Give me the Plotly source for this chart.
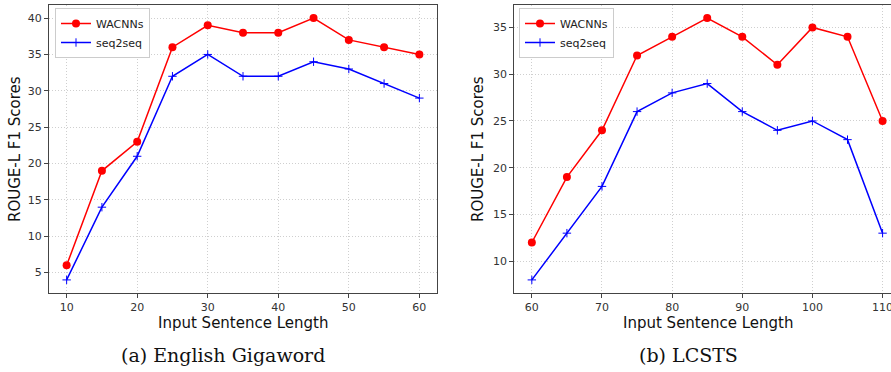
import plotly.graph_objects as go

# Data
x_giga = [10, 15, 20, 25, 30, 35, 40, 45, 50, 55, 60]
wacnn_giga = [6, 19, 23, 36, 39, 38, 38, 40, 37, 36, 35]
seq_giga = [4, 14, 21, 32, 35, 32, 32, 34, 33, 31, 29]

x_lcsts = [60, 65, 70, 75, 80, 85, 90, 95, 100, 105, 110]
wacnn_lcsts = [12, 19, 24, 32, 34, 36, 34, 31, 35, 34, 25]
seq_lcsts = [8, 13, 18, 26, 28, 29, 26, 24, 25, 23, 13]

xticks_giga = [10, 20, 30, 40, 50, 60]
yticks_giga = [5, 10, 15, 20, 25, 30, 35, 40]
xticks_lcsts = [60, 70, 80, 90, 100, 110]
yticks_lcsts = [10, 15, 20, 25, 30, 35]

W, H = 891, 372
RED = "#ff0000"
BLUE = "#0000ff"
SANS = "DejaVu Sans"
SERIF = "DejaVu Serif"

fig = go.Figure()

def add_series(x, y, xa, ya, legend, show):
    fig.add_trace(go.Scatter(
        x=x, y=y, mode="lines+markers", name="WACNNs",
        line=dict(color=RED, width=1.5),
        marker=dict(symbol="circle", size=8, color=RED),
        xaxis=xa, yaxis=ya, legend=legend, showlegend=show, cliponaxis=False))

def add_seq(x, y, xa, ya, legend, show):
    fig.add_trace(go.Scatter(
        x=x, y=y, mode="lines+markers", name="seq2seq",
        line=dict(color=BLUE, width=1.5),
        marker=dict(symbol="cross-thin", size=6, color=BLUE,
                    line=dict(color=BLUE, width=1)),
        xaxis=xa, yaxis=ya, legend=legend, showlegend=show, cliponaxis=False))

add_series(x_giga, wacnn_giga, "x", "y", "legend", True)
add_seq(x_giga, seq_giga, "x", "y", "legend", True)
add_series(x_lcsts, wacnn_lcsts, "x2", "y2", "legend2", True)
add_seq(x_lcsts, seq_lcsts, "x2", "y2", "legend2", True)

ydom = [1 - 293 / H, 1 - 5 / H]
common_axis = dict(
    showline=True, linecolor="#444", linewidth=1,
    ticks="outside", ticklen=4, tickcolor="#444", tickwidth=1,
    showgrid=True, gridcolor="#cfcfcf", griddash="1px,2px", gridwidth=1,
    zeroline=False, tickfont=dict(family=SANS, size=11, color="#333"),
    ticklabeloverflow="allow",
)

fig.update_layout(
    width=W, height=H,
    margin=dict(l=0, r=0, t=0, b=0, autoexpand=False),
    paper_bgcolor="white", plot_bgcolor="white",
    xaxis=dict(domain=[49 / W, 437 / W], range=[7.5, 62.5],
               tickvals=xticks_giga, mirror=True, anchor="y", **common_axis),
    yaxis=dict(domain=ydom, range=[2.2, 41.8], tickvals=yticks_giga,
               mirror=True, anchor="x", **common_axis),
    xaxis2=dict(domain=[514.3 / W, 1.0], range=[57.5, 111.2],
                tickvals=xticks_lcsts, mirror=True, anchor="y2", **common_axis),
    yaxis2=dict(domain=ydom, range=[6.6, 37.4], tickvals=yticks_lcsts,
                mirror=False, anchor="x2", **common_axis),
    legend=dict(x=55 / W, y=1 - 8 / H, xanchor="left", yanchor="top",
                bgcolor="white", bordercolor="#cccccc", borderwidth=1,
                font=dict(family=SANS, size=11, color="#222"),
                tracegroupgap=3, itemwidth=30),
    legend2=dict(x=519 / W, y=1 - 8 / H, xanchor="left", yanchor="top",
                 bgcolor="white", bordercolor="#cccccc", borderwidth=1,
                 font=dict(family=SANS, size=11, color="#222"),
                 tracegroupgap=3, itemwidth=30),
    font=dict(family=SANS, color="#222"),
)

ann = []
def A(text, x, y, size, family, angle=0):
    ann.append(dict(text=text, x=x / W, y=1 - y / H, xref="paper", yref="paper",
                    showarrow=False, xanchor="center", yanchor="middle",
                    textangle=angle, font=dict(family=family, size=size, color="#111")))

A("Input Sentence Length", 243, 323, 15, SANS)
A("Input Sentence Length", 708, 323, 15, SANS)
A("ROUGE-L F1 Scores", 15, 149, 15, SANS, -90)
A("ROUGE-L F1 Scores", 478, 149, 15, SANS, -90)
A("(a) English Gigaword", 223, 355, 19, SERIF)
A("(b) LCSTS", 688, 355, 19, SERIF)
fig.update_layout(annotations=ann)

fig.write_html("out.html", config={"displayModeBar": False},
               post_script="document.body.style.margin='0';document.body.style.overflow='hidden';")
